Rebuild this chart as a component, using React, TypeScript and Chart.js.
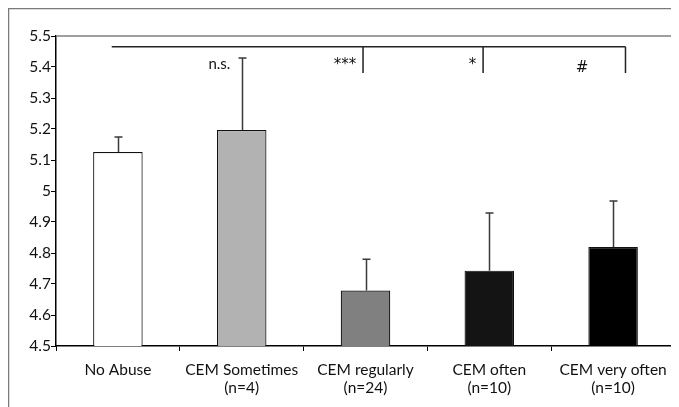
import React, { useEffect, useRef } from "react";
import { Chart, registerables } from "chart.js";

Chart.register(...registerables);

const categories: string[][] = [
  ["No Abuse"],
  ["CEM Sometimes", "(n=4)"],
  ["CEM regularly", "(n=24)"],
  ["CEM often", "(n=10)"],
  ["CEM very often", "(n=10)"],
];
const means = [5.126, 5.197, 4.679, 4.743, 4.819];
const errorTops = [5.174, 5.429, 4.78, 4.929, 4.968];
const barColors = ["#ffffff", "#b2b2b2", "#808080", "#141414", "#000000"];

const yTicks = [4.5, 4.6, 4.7, 4.8, 4.9, 5, 5.1, 5.2, 5.3, 5.4, 5.5];

// significance bracket: category positions (fractional index) and value levels
const bracketStart = -0.05;
const bracketDrops = [1.98, 2.95, 4.1];
const bracketLevel = 5.465;
const bracketDropLevel = 5.381;
const sigLabels = ["n.s.", "***", "*", "#"];
const sigLabelPos = [0.82, 1.835, 2.865, 3.75];
const sigLabelLevel = [5.41, 5.405, 5.405, 5.395];
const sigLabelFonts = [
  "15px Lato, sans-serif",
  "15px 'DejaVu Sans', sans-serif",
  "15px 'DejaVu Sans', sans-serif",
  "15px 'DejaVu Sans', sans-serif",
];

const FONT = "Lato, 'Open Sans', sans-serif";

const overlayPlugin = {
  id: "overlay",
  afterDatasetsDraw(chart: any) {
    const { ctx, chartArea, scales } = chart;
    const x = scales.x;
    const y = scales.y;
    ctx.save();
    // outer frame
    ctx.strokeStyle = "#7a7a7a";
    ctx.lineWidth = 1.5;
    ctx.beginPath();
    ctx.moveTo(0.5, chart.height + 5);
    ctx.lineTo(0.5, 0.5);
    ctx.lineTo(chart.width + 5, 0.5);
    ctx.stroke();
    // plot area top/right border
    ctx.strokeStyle = "#808080";
    ctx.lineWidth = 1.5;
    ctx.beginPath();
    ctx.moveTo(chartArea.left, chartArea.top);
    ctx.lineTo(chartArea.right, chartArea.top);
    ctx.lineTo(chartArea.right, chartArea.bottom);
    ctx.stroke();
    // error bars
    ctx.strokeStyle = "#3a3a3a";
    ctx.lineWidth = 1.5;
    means.forEach((m, i) => {
      const cx = Math.round(x.getPixelForValue(i)) + 0.5;
      const y0 = y.getPixelForValue(m);
      const y1 = y.getPixelForValue(errorTops[i]);
      ctx.beginPath();
      ctx.moveTo(cx, y0);
      ctx.lineTo(cx, y1);
      ctx.moveTo(cx - 4, y1);
      ctx.lineTo(cx + 4, y1);
      ctx.stroke();
    });
    // bracket
    ctx.strokeStyle = "#222";
    ctx.lineWidth = 1.5;
    const by = y.getPixelForValue(bracketLevel);
    const bd = y.getPixelForValue(bracketDropLevel);
    ctx.beginPath();
    ctx.moveTo(x.getPixelForValue(bracketStart), by);
    ctx.lineTo(x.getPixelForValue(bracketDrops[bracketDrops.length - 1]), by);
    bracketDrops.forEach((d) => {
      const px = x.getPixelForValue(d);
      ctx.moveTo(px, by);
      ctx.lineTo(px, bd);
    });
    ctx.stroke();
    // labels
    ctx.fillStyle = "#111";
    ctx.textAlign = "center";
    ctx.textBaseline = "middle";
    sigLabels.forEach((t, i) => {
      ctx.font = sigLabelFonts[i];
      ctx.fillText(t, x.getPixelForValue(sigLabelPos[i]), y.getPixelForValue(sigLabelLevel[i]));
    });
    ctx.restore();
  },
};

export default function App() {
  const ref = useRef<HTMLCanvasElement | null>(null);
  useEffect(() => {
    if (!ref.current) return;
    const chart = new Chart(ref.current, {
      type: "bar",
      data: {
        labels: categories,
        datasets: [
          {
            data: means,
            backgroundColor: barColors,
            borderColor: "#111",
            borderWidth: 1.2,
            categoryPercentage: 1,
            barPercentage: 0.4,
          },
        ],
      },
      options: {
        animation: false,
        responsive: false,
        maintainAspectRatio: false,
        layout: { padding: { top: 28, right: 4, left: 0, bottom: 0 } },
        plugins: {
          legend: { display: false },
          tooltip: { enabled: false },
          title: { display: false },
        },
        scales: {
          x: {
            offset: true,
            grid: {
              display: true,
              offset: true,
              drawOnChartArea: false,
              drawTicks: true,
              tickLength: 5,
              color: "#000",
            },
            border: { display: true, color: "#000", width: 1.5 },
            ticks: {
              color: "#111",
              font: { family: FONT, size: 15.5, lineHeight: 1.18 },
              padding: 10,
              maxRotation: 0,
              autoSkip: false,
            },
            afterFit: (s: any) => {
              s.height = 61;
            },
          },
          y: {
            min: 4.5,
            max: 5.5,
            afterBuildTicks: (s: any) => {
              s.ticks = yTicks.map((v) => ({ value: v }));
            },
            grid: {
              display: true,
              drawOnChartArea: false,
              drawTicks: true,
              tickLength: 5,
              color: "#000",
            },
            border: { display: true, color: "#000", width: 1.5 },
            ticks: {
              color: "#111",
              font: { family: FONT, size: 15.5 },
              padding: 0,
              callback: (v: any) => String(Math.round(Number(v) * 10) / 10),
            },
            afterFit: (s: any) => {
              s.width = 48;
            },
          },
        },
      },
      plugins: [overlayPlugin],
    });
    return () => chart.destroy();
  }, []);
  return (
    <div style={{ width: 671, height: 399 }}>
      <canvas ref={ref} width={671} height={399} style={{ display: "block" }} />
    </div>
  );
}
